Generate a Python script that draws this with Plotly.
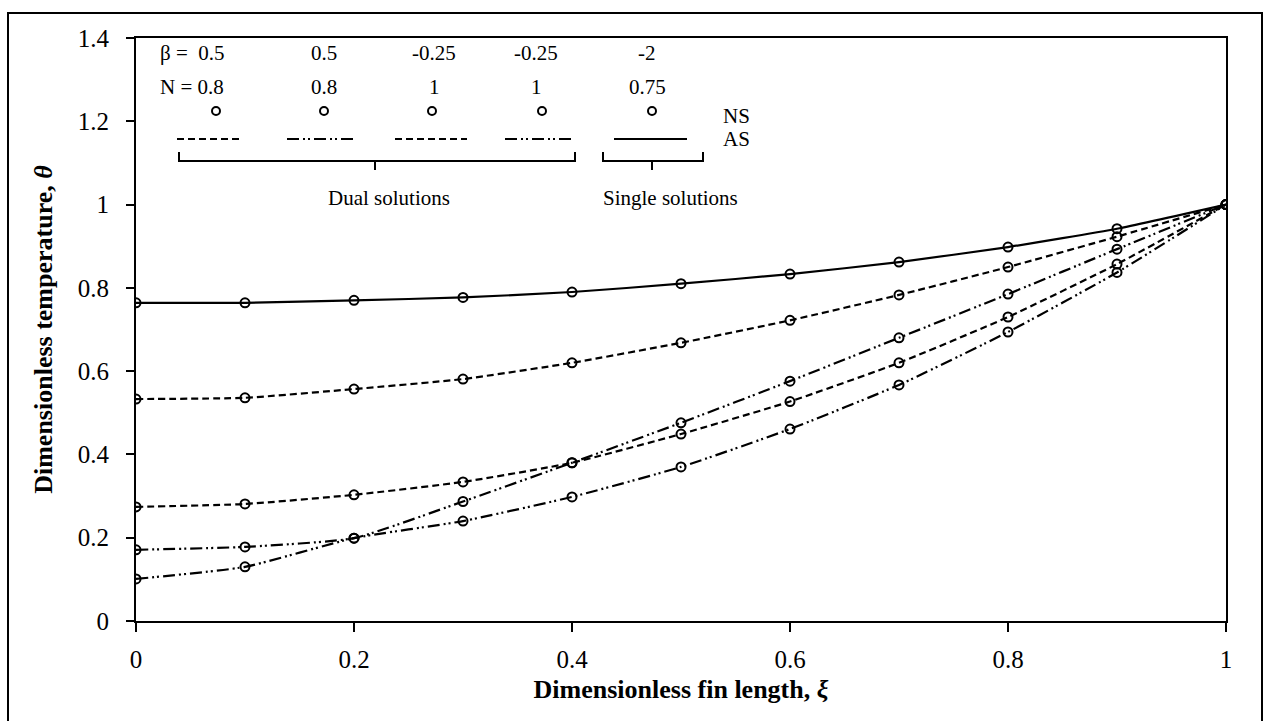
import plotly.graph_objects as go

# Dimensionless fin length and temperature profiles (numerical solution points)
xi = [0.0, 0.1, 0.2, 0.3, 0.4, 0.5, 0.6, 0.7, 0.8, 0.9, 1.0]

# beta = -2, N = 0.75 (single solution)
theta_single = [0.764, 0.764, 0.770, 0.777, 0.790, 0.810, 0.833, 0.862, 0.898, 0.942, 1.0]
# beta = 0.5, N = 0.8 (dual solutions)
theta_b05_dash = [0.533, 0.536, 0.557, 0.581, 0.620, 0.668, 0.722, 0.783, 0.850, 0.923, 1.0]
theta_b05_dashdot = [0.171, 0.178, 0.199, 0.287, 0.380, 0.476, 0.576, 0.680, 0.785, 0.893, 1.0]
# beta = -0.25, N = 1 (dual solutions)
theta_bm025_dash = [0.274, 0.281, 0.303, 0.334, 0.380, 0.449, 0.527, 0.620, 0.730, 0.857, 1.0]
theta_bm025_dashdot = [0.101, 0.130, 0.199, 0.240, 0.298, 0.370, 0.461, 0.567, 0.694, 0.837, 1.0]

x_ticks = [0, 0.2, 0.4, 0.6, 0.8, 1]
x_ticklabels = ["0", "0.2", "0.4", "0.6", "0.8", "1"]
y_ticks = [0, 0.2, 0.4, 0.6, 0.8, 1.0, 1.2, 1.4]
y_ticklabels = ["0", "0.2", "0.4", "0.6", "0.8", "1", "1.2", "1.4"]

legend_beta = ["β =  0.5", "0.5", "-0.25", "-0.25", "-2"]
legend_n = ["N = 0.8", "0.8", "1", "1", "0.75"]

DASH = "7px,4px"
DASHDOT = "12px,4px,2px,3px,2px,4px"

W, H = 1264, 721
L, R, T, B = 136, 38, 38, 100
PW, PH = W - L - R, H - T - B


def px(xp):
    return (xp - L) / PW


def py(yp):
    return (H - B - yp) / PH


FONT = "Liberation Serif"
KEY_FONT = dict(family=FONT, size=21, color="black")

fig = go.Figure()

series = [
    (theta_b05_dash, DASH),
    (theta_b05_dashdot, DASHDOT),
    (theta_bm025_dash, DASH),
    (theta_bm025_dashdot, DASHDOT),
    (theta_single, "solid"),
]
for ys, dash in series:
    fig.add_trace(go.Scatter(
        x=xi, y=ys, mode="lines+markers",
        line=dict(color="black", width=2.2, dash=dash, shape="spline", smoothing=0.5),
        marker=dict(symbol="circle-open", size=9, color="black", line=dict(width=2, color="black")),
        showlegend=False, hoverinfo="skip",
    ))

shapes = []
annotations = []


def label(xp, yp, text):
    annotations.append(dict(x=px(xp), y=py(yp), xref="paper", yref="paper", text=text,
                            showarrow=False, xanchor="center", yanchor="middle",
                            font=KEY_FONT))


# Hand-built key: parameters, NS markers, AS line samples
col_text_x = [192, 324, 434, 536, 647]
col_x = [216, 324, 432, 542, 652]
seg = [(177, 242), (287, 354), (395, 467), (505, 573), (614, 687)]
seg_dash = [DASH, DASHDOT, DASH, DASHDOT, "solid"]
for i in range(5):
    label(col_text_x[i], 53, legend_beta[i])
    label(col_text_x[i], 87, legend_n[i])
    shapes.append(dict(type="circle", xref="paper", yref="paper",
                       xsizemode="pixel", ysizemode="pixel",
                       xanchor=px(col_x[i]), yanchor=py(111),
                       x0=-4, x1=4, y0=-4, y1=4,
                       line=dict(color="black", width=2)))
    shapes.append(dict(type="line", xref="paper", yref="paper",
                       x0=px(seg[i][0]), x1=px(seg[i][1]), y0=py(139), y1=py(139),
                       line=dict(color="black", width=2, dash=seg_dash[i])))

label(736, 116, "NS")
label(736, 139, "AS")


def bracket(x0, x1, xc):
    return (f"M {px(x0)},{py(152)} L {px(x0)},{py(161)} L {px(x1)},{py(161)} "
            f"L {px(x1)},{py(152)} M {px(xc)},{py(161)} L {px(xc)},{py(170)}")


for x0, x1, xc in [(179, 575, 375), (603, 703, 652)]:
    shapes.append(dict(type="path", xref="paper", yref="paper", path=bracket(x0, x1, xc),
                       line=dict(color="black", width=2)))

label(389, 198, "Dual solutions")
label(670, 198, "Single solutions")

# Outer frame around the whole figure (bottom edge falls off the page)
shapes.append(dict(type="rect", xref="paper", yref="paper",
                   x0=px(8), x1=px(1262), y0=py(730), y1=py(13),
                   line=dict(color="black", width=2)))

fig.update_layout(
    width=W, height=H,
    margin=dict(l=L, r=R, t=T, b=B),
    paper_bgcolor="white", plot_bgcolor="white",
    font=dict(family=FONT, color="black"),
    shapes=shapes, annotations=annotations,
    xaxis=dict(range=[0, 1], tickvals=x_ticks, ticktext=x_ticklabels,
               showgrid=False, zeroline=False, showline=True, mirror=True,
               linecolor="black", linewidth=2, ticks="outside", ticklen=9, tickwidth=1.5,
               tickcolor="black", tickfont=dict(family=FONT, size=25), ticklabelstandoff=6,
               title=dict(text="<b>Dimensionless fin length, <i>ξ</i></b>",
                          font=dict(family=FONT, size=26), standoff=8)),
    yaxis=dict(range=[0, 1.4], tickvals=y_ticks, ticktext=y_ticklabels,
               showgrid=False, zeroline=False, showline=True, mirror=True,
               linecolor="black", linewidth=2, ticks="outside", ticklen=8, tickwidth=1.5,
               tickcolor="black", tickfont=dict(family=FONT, size=25), ticklabelstandoff=12,
               title=dict(text="<b>Dimensionless temperature, <i>θ</i></b>",
                          font=dict(family=FONT, size=26), standoff=18)),
)

fig.write_html("out.html")
